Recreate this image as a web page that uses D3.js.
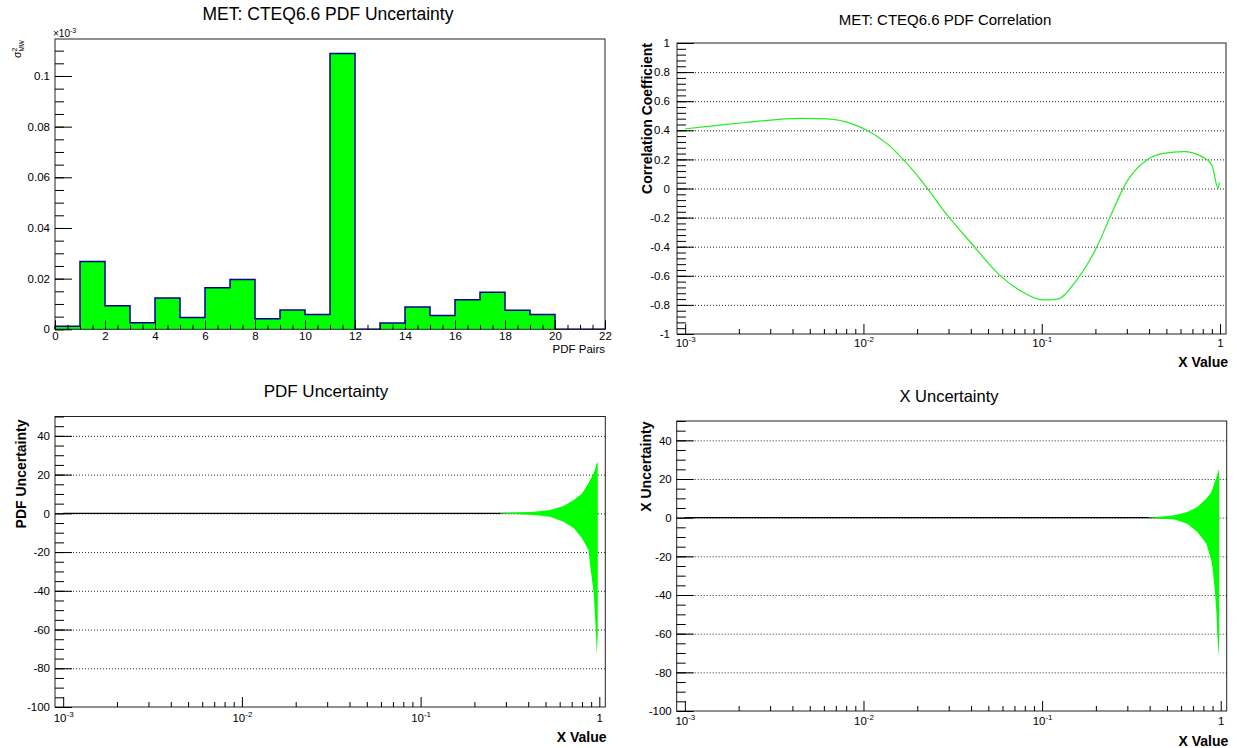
<!DOCTYPE html>
<html>
<head>
<meta charset="utf-8">
<script src="https://cdn.jsdelivr.net/npm/d3@7"></script>
<style>
  body { margin: 0; background: #fff; }
  svg { display: block; font-family: "Liberation Sans", Arial, Helvetica, sans-serif; }
</style>
</head>
<body>
<svg id="canvas" width="1237" height="748"></svg>
<script>
// ---- Data ---------------------------------------------------------------
// sigma^2 per PDF eigenvector pair (x 10^-3), one bin per pair
const pairLow    = [0, 1, 2, 3, 4, 5, 6, 7, 8, 9, 10, 11, 12, 13, 14, 15, 16, 17, 18, 19, 20, 21];
const pairSigma2 = [0.0012, 0.0268, 0.0093, 0.0026, 0.0124, 0.0047, 0.0164, 0.0197, 0.0042, 0.0076, 0.0058,
                    0.1089, 0.0, 0.0025, 0.0088, 0.0054, 0.0117, 0.0146, 0.0075, 0.0058, 0.0, 0.0];
const pairTicks  = [0, 2, 4, 6, 8, 10, 12, 14, 16, 18, 20, 22];
const sigmaTicks = [0, 0.02, 0.04, 0.06, 0.08, 0.1];

// correlation coefficient versus x
const corrX = [0.001, 0.00142, 0.00212, 0.00442, 0.00624, 0.00879, 0.0102, 0.0135, 0.0167, 0.0208,
               0.030, 0.0396, 0.0585, 0.0757, 0.102, 0.122, 0.157, 0.204, 0.242, 0.30,
               0.388, 0.482, 0.624, 0.807, 0.90, 0.975, 0.99];
const corrR = [0.41, 0.43, 0.452, 0.482, 0.478, 0.441, 0.407, 0.31, 0.2, 0.065,
               -0.194, -0.366, -0.599, -0.702, -0.766, -0.76, -0.629, -0.40, -0.194, 0.047,
               0.196, 0.242, 0.253, 0.214, 0.161, 0.0, 0.04];
const corrTicks = [-1, -0.8, -0.6, -0.4, -0.2, 0, 0.2, 0.4, 0.6, 0.8, 1];

// log x axis shared by three panels
const decadeTicks = [0.001, 0.01, 0.1, 1];
const decadeBase  = ["10", "10", "10", "1"];
const decadeExp   = ["-3", "-2", "-1", ""];

const uncTicks = [-100, -80, -60, -40, -20, 0, 20, 40];

// PDF uncertainty band
const pdfCentralX = [0.001, 0.98];
const pdfCentral  = [0, 0];
const pdfBandX  = [0.28, 0.35, 0.43, 0.53, 0.63, 0.72, 0.80, 0.87, 0.89, 0.93, 0.955, 0.968, 0.98];
const pdfBandUp = [0.2, 0.4, 0.8, 1.7, 3.8, 6.9, 10.3, 15.5, 17.5, 20.6, 24.0, 25.8, 26.2];
const pdfBandLo = [-0.2, -0.5, -0.9, -1.7, -4.3, -7.7, -12.9, -18.9, -27.5, -41.2, -60.0, -73.0, -62.0];

// X uncertainty band
const xCentralX = [0.001, 0.98];
const xCentral  = [0, 0];
const xBandX  = [0.39, 0.44, 0.55, 0.65, 0.74, 0.83, 0.885, 0.90, 0.923, 0.948, 0.955, 0.972, 0.98];
const xBandUp = [0.1, 0.3, 1.2, 2.9, 5.5, 9.8, 13.0, 15.0, 18.0, 21.0, 22.0, 24.5, 24.8];
const xBandLo = [-0.1, -0.3, -1.0, -3.1, -7.4, -13.4, -22.0, -26.0, -35.9, -50.0, -58.3, -72.0, -62.0];

// ---- Helpers ------------------------------------------------------------
const svg = d3.select("#canvas");
const TICK_FONT = 11.5;
const GREEN = "#00ff00";

function styleAxis(g) {
  g.attr("font-family", null).attr("font-size", TICK_FONT);
  g.select(".domain").remove();
  g.selectAll("line").attr("stroke", "#000");
  g.selectAll("text").attr("fill", "#000");
}

function frame(b) {
  svg.append("rect")
    .attr("x", b.l).attr("y", b.t)
    .attr("width", b.r - b.l).attr("height", b.b - b.t)
    .attr("fill", "none").attr("stroke", "#222").attr("stroke-width", 1);
}

function gridLines(b, y, values) {
  const g = svg.append("g").attr("transform", `translate(${b.l},0)`)
    .call(d3.axisLeft(y).tickValues(values).tickSize(-(b.r - b.l)).tickFormat(""));
  g.select(".domain").remove();
  g.selectAll("line").attr("stroke", "#111").attr("stroke-width", 0.9).attr("stroke-dasharray", "1,2");
}

function leftAxis(b, y, majors, minorStep, fmt, pad) {
  const [lo, hi] = y.domain();
  const minors = d3.range(Math.ceil(lo / minorStep - 1e-6) * minorStep, hi + 1e-9, minorStep);
  svg.append("g").attr("transform", `translate(${b.l},0)`)
    .call(d3.axisLeft(y).tickValues(minors).tickSize(-9).tickFormat(""))
    .call(styleAxis);
  svg.append("g").attr("transform", `translate(${b.l},0)`)
    .call(d3.axisLeft(y).tickValues(majors).tickSize(-17).tickPadding(pad).tickFormat(fmt))
    .call(styleAxis);
}

function logBottomAxis(b, x, pad) {
  const minors = x.ticks().filter(v => v > 0.00095 && !decadeTicks.some(d => Math.abs(d - v) / d < 1e-6));
  svg.append("g").attr("transform", `translate(0,${b.b})`)
    .call(d3.axisBottom(x).tickValues(minors).tickSize(-5).tickFormat(""))
    .call(styleAxis);
  const g = svg.append("g").attr("transform", `translate(0,${b.b})`)
    .call(d3.axisBottom(x).tickValues(decadeTicks).tickSize(-10).tickPadding(pad)
      .tickFormat((d, i) => decadeBase[i]))
    .call(styleAxis);
  g.selectAll(".tick text").each(function (d, i) {
    if (decadeExp[i]) {
      d3.select(this).append("tspan").attr("dy", -5).attr("font-size", 8).text(decadeExp[i]);
    }
  });
}

function title(text, cx, baseline, size) {
  svg.append("text").attr("x", cx).attr("y", baseline).attr("text-anchor", "middle")
    .attr("font-size", size).attr("fill", "#000").text(text);
}

function yTitle(text, x, top) {
  svg.append("text").attr("transform", `translate(${x},${top}) rotate(-90)`)
    .attr("text-anchor", "end").attr("font-size", 14).attr("font-weight", "bold")
    .attr("fill", "#000").text(text);
}

function xTitle(text, right, baseline, bold, size) {
  svg.append("text").attr("x", right).attr("y", baseline).attr("text-anchor", "end")
    .attr("font-size", size).attr("font-weight", bold ? "bold" : "normal")
    .attr("fill", "#000").text(text);
}

const fmtNum = d => String(+d.toFixed(2));

// ---- Panel 1: sigma^2 per PDF pair --------------------------------------
{
  const b = { l: 55, r: 605, t: 39, b: 329.3 };
  const x = d3.scaleLinear().domain([0, 22]).range([b.l, b.r]);
  const y = d3.scaleLinear().domain([0, 0.1146]).range([b.b, b.t]);

  const pts = pairLow.map((lo, i) => ({ x: lo, v: pairSigma2[i] }));
  const last = pairSigma2[pairSigma2.length - 1];
  const filled = pts.concat([{ x: 22, v: last }]);

  svg.append("path").datum(filled)
    .attr("d", d3.area().curve(d3.curveStepAfter).x(d => x(d.x)).y0(y(0)).y1(d => y(d.v)))
    .attr("fill", GREEN);

  const outline = [{ x: 0, v: 0 }].concat(pts, [{ x: 22, v: last }, { x: 22, v: 0 }]);
  svg.append("path").datum(outline)
    .attr("d", d3.line().curve(d3.curveStepAfter).x(d => x(d.x)).y(d => y(d.v)))
    .attr("fill", "none").attr("stroke", "#000099").attr("stroke-width", 1.5);

  frame(b);
  leftAxis(b, y, sigmaTicks, 0.005, fmtNum, 5);

  svg.append("g").attr("transform", `translate(0,${b.b})`)
    .call(d3.axisBottom(x).tickValues(d3.range(0, 22.01, 0.5)).tickSize(-4.5).tickFormat(""))
    .call(styleAxis);
  svg.append("g").attr("transform", `translate(0,${b.b})`)
    .call(d3.axisBottom(x).tickValues(pairTicks).tickSize(-9).tickPadding(2.5).tickFormat(d => String(d)))
    .call(styleAxis);

  title("MET: CTEQ6.6 PDF Uncertainty", 328, 20, 17.5);
  xTitle("PDF Pairs", 605, 353, false, 11.5);

  // exponent marker above the y axis
  const e = svg.append("text").attr("x", 53).attr("y", 36.5).attr("font-size", 10).attr("fill", "#000");
  e.append("tspan").text("\u00d710");
  e.append("tspan").attr("dy", -4).attr("font-size", 7).text("-3");

  // y axis title: sigma squared, subscript MW
  const s = svg.append("text").attr("transform", "translate(21,40) rotate(-90)")
    .attr("text-anchor", "end").attr("font-size", 10.5).attr("fill", "#000");
  s.append("tspan").text("\u03c3");
  s.append("tspan").attr("dy", -4.5).attr("font-size", 7).text("2");
  s.append("tspan").attr("dx", -4).attr("dy", 7.5).attr("font-size", 6.5).text("MW");
}

// ---- Panel 2: correlation coefficient -----------------------------------
{
  const b = { l: 677, r: 1226, t: 43, b: 334 };
  const x = d3.scaleLog().domain([0.0009, 1.08]).range([b.l, b.r]);
  const y = d3.scaleLinear().domain([-1, 1]).range([b.b, b.t]);

  gridLines(b, y, corrTicks.filter(v => v > -1 && v < 1));

  const pts = corrX.map((v, i) => ({ x: v, r: corrR[i] }));
  svg.append("path").datum(pts)
    .attr("d", d3.line().curve(d3.curveMonotoneX).x(d => x(d.x)).y(d => y(d.r)))
    .attr("fill", "none").attr("stroke", "#22ee22").attr("stroke-width", 1.2);

  frame(b);
  leftAxis(b, y, corrTicks, 0.04, d => String(+d.toFixed(1)), 7);
  logBottomAxis(b, x, 4.5);

  title("MET: CTEQ6.6 PDF Correlation", 945, 25, 15);
  yTitle("Correlation Coefficient", 652, 43);
  xTitle("X Value", 1228, 366.5, true, 14);
}

// ---- Panels 3 and 4: uncertainty bands ----------------------------------
function bandPanel(b, centralX, central, bandX, bandUp, bandLo, labelPad) {
  const x = d3.scaleLog().domain([0.0009, 1.08]).range([b.l, b.r]);
  const y = d3.scaleLinear().domain([-100, 50]).range([b.b, b.t]);

  gridLines(b, y, uncTicks.filter(v => v > -100));

  const cl = centralX.map((v, i) => ({ x: v, y: central[i] }));
  svg.append("path").datum(cl)
    .attr("d", d3.line().x(d => x(d.x)).y(d => y(d.y)))
    .attr("fill", "none").attr("stroke", "#000").attr("stroke-width", 1.2);

  const band = bandX.map((v, i) => ({ x: v, up: bandUp[i], lo: bandLo[i] }));
  svg.append("path").datum(band)
    .attr("d", d3.area().x(d => x(d.x)).y0(d => y(d.lo)).y1(d => y(d.up)))
    .attr("fill", GREEN);

  frame(b);
  leftAxis(b, y, uncTicks, 5, d => String(d), 5);
  logBottomAxis(b, x, labelPad);
}

{
  const b = { l: 55, r: 605.3, t: 416.5, b: 707 };
  bandPanel(b, pdfCentralX, pdfCentral, pdfBandX, pdfBandUp, pdfBandLo, 6.5);
  title("PDF Uncertainty", 326, 397, 17);
  yTitle("PDF Uncertainty", 26, 419.5);
  xTitle("X Value", 606.5, 741.5, true, 14);
}

{
  const b = { l: 676.7, r: 1226.7, t: 421, b: 711 };
  bandPanel(b, xCentralX, xCentral, xBandX, xBandUp, xBandLo, 6);
  title("X Uncertainty", 949, 401.5, 16.5);
  yTitle("X Uncertainty", 651, 421.5);
  xTitle("X Value", 1228.3, 745.5, true, 14);
}
</script>
</body>
</html>
